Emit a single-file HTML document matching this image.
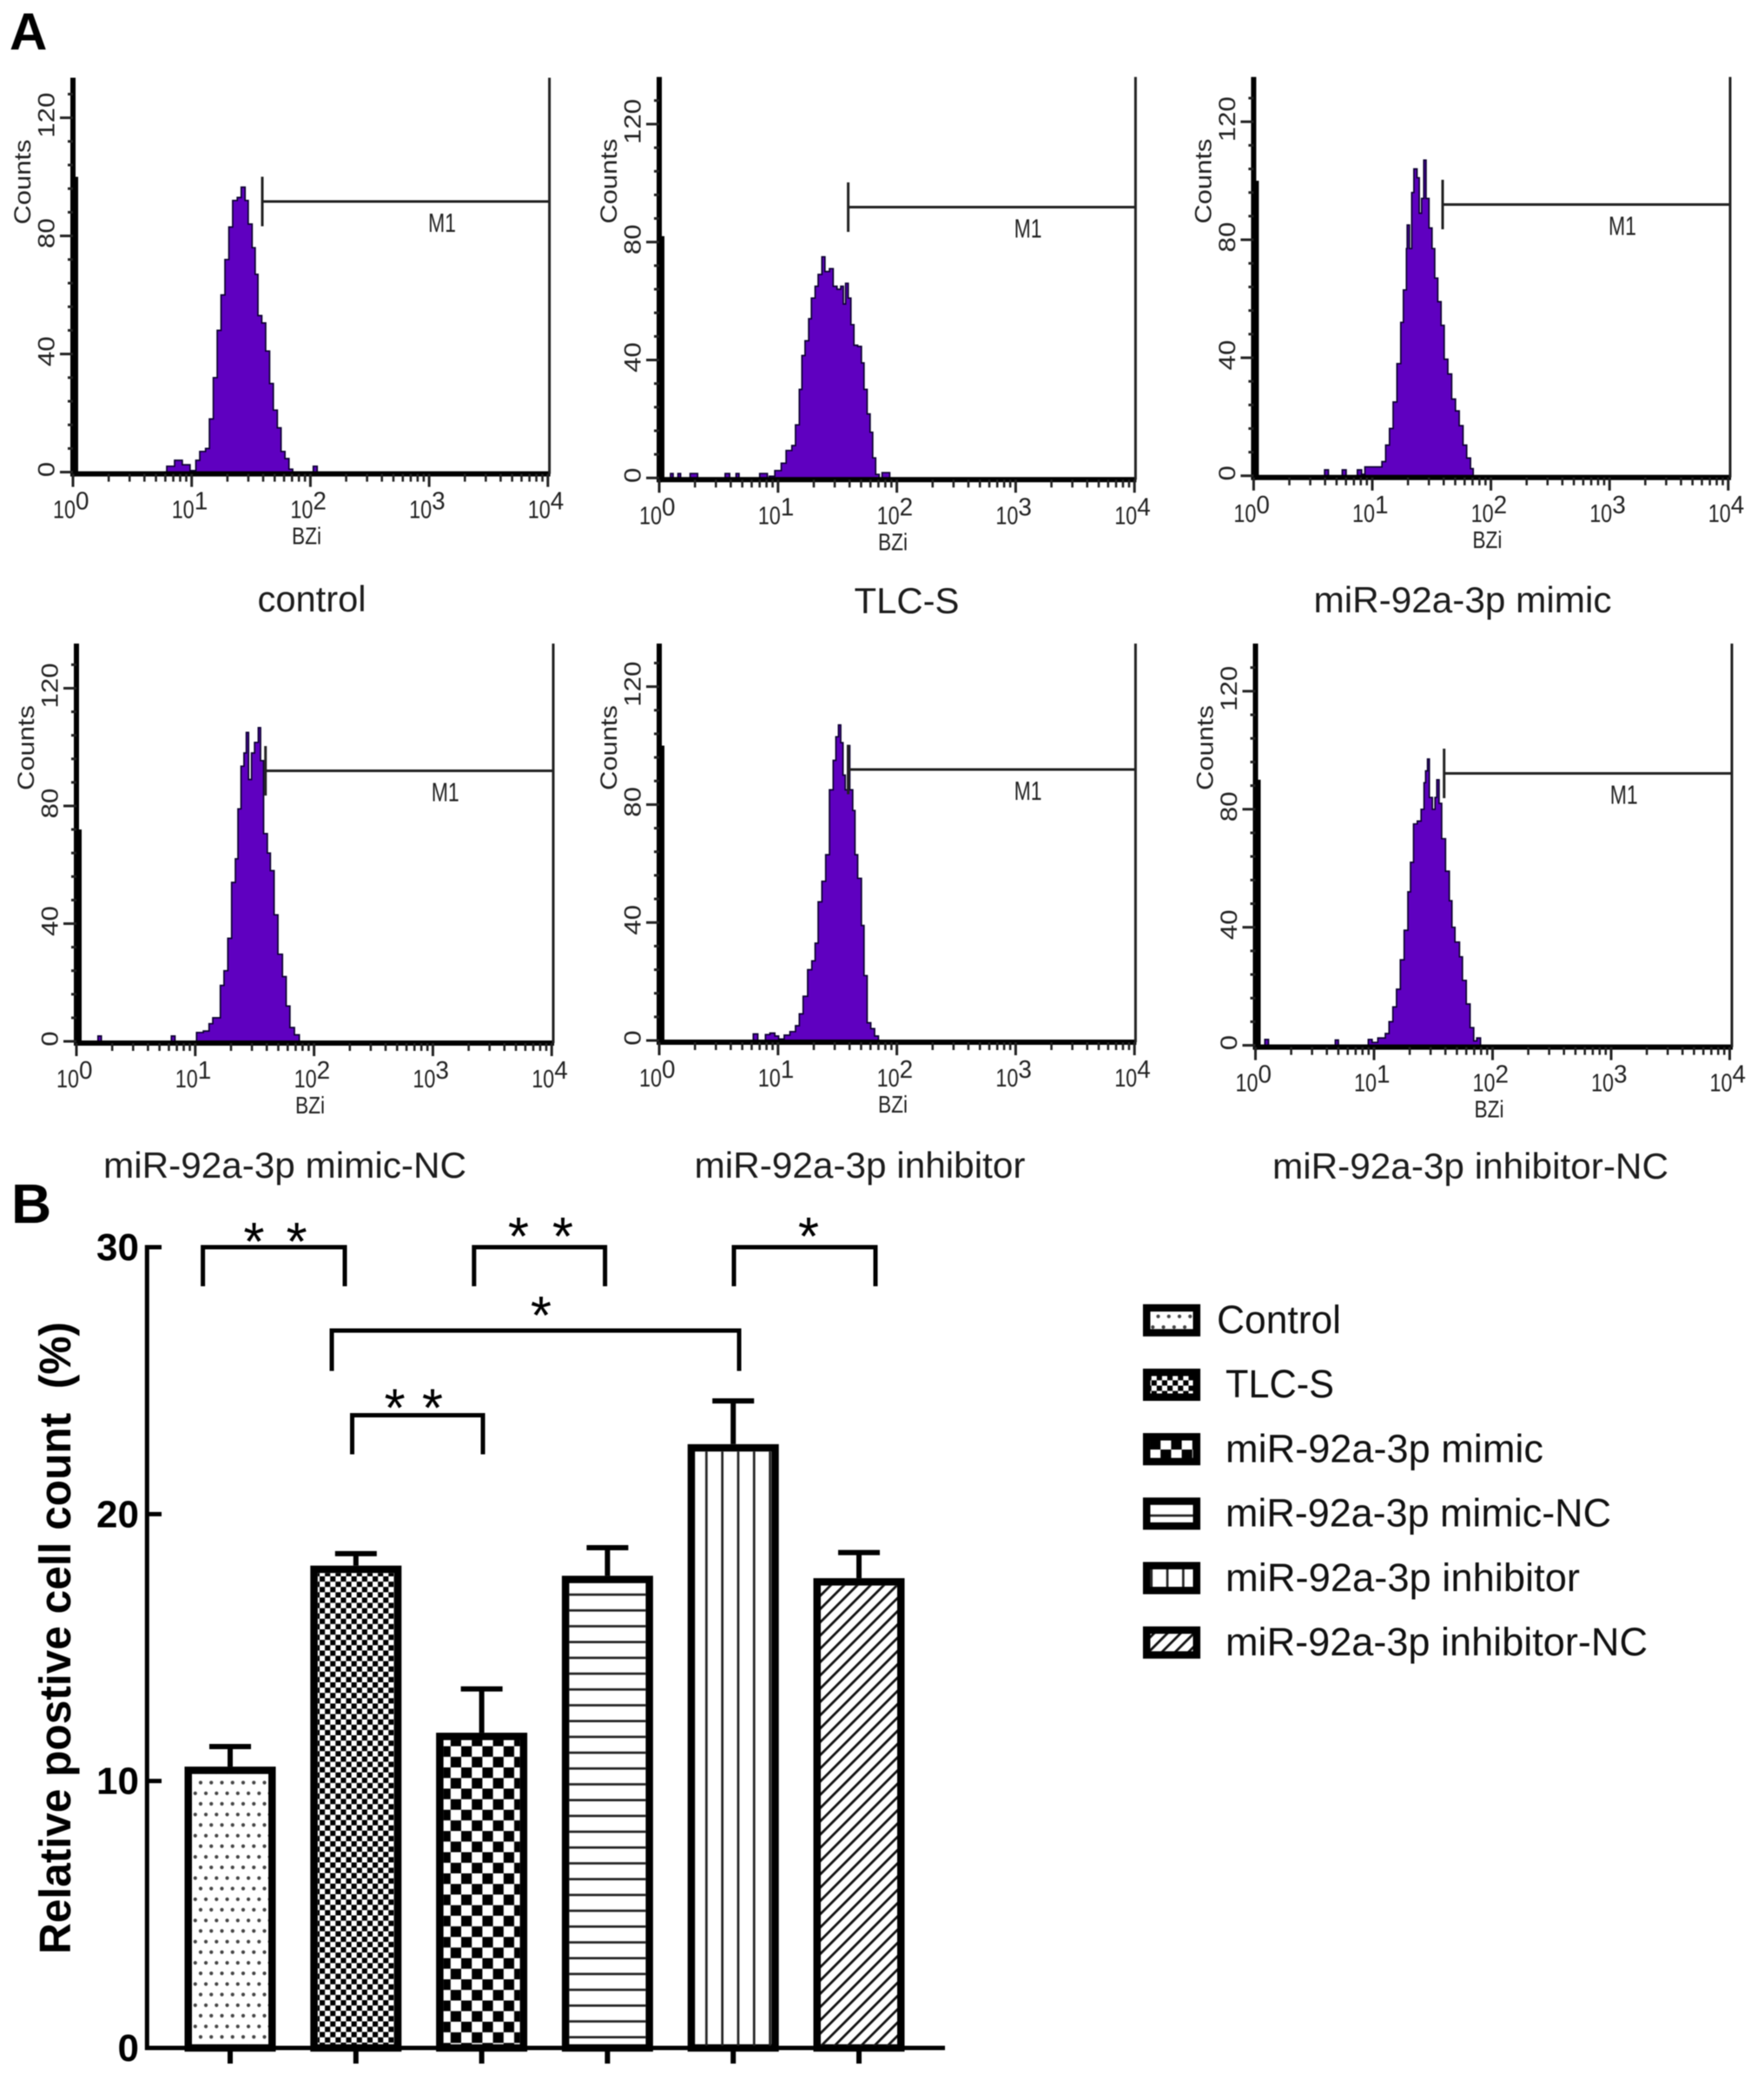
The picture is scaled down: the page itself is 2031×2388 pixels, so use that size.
<!DOCTYPE html>
<html lang="en">
<head>
<meta charset="utf-8">
<title>Flow cytometry histograms and relative positive cell count</title>
<style>
html,body{margin:0;padding:0;background:#fff;}
svg{display:block;font-family:"Liberation Sans",sans-serif;filter:blur(0.6px);}
.cap{font-size:41.5px;fill:#1c1c1c;text-anchor:middle;}
.leg{font-size:45px;fill:#111;}
.star{font-size:62px;fill:#000;text-anchor:middle;}
.br{fill:none;stroke:#000;stroke-width:5;}
.sw{stroke:#000;stroke-width:8.5;}
</style>
</head>
<body>
<svg id="fig" width="2031" height="2388" viewBox="0 0 2031 2388" xmlns="http://www.w3.org/2000/svg">
<defs>
<pattern id="p-dots" patternUnits="userSpaceOnUse" x="221.74" y="2241.6" width="12.25" height="24.4">
<circle cx="9.26" cy="6.1" r="2.1" fill="#444"/><circle cx="3.06" cy="18.4" r="2.1" fill="#444"/>
</pattern>
<pattern id="p-fine" patternUnits="userSpaceOnUse" x="368" y="1815" width="12.2" height="12.2">
<rect x="0" y="0" width="6.1" height="6.1" fill="#000"/><rect x="6.1" y="6.1" width="6.1" height="6.1" fill="#000"/>
</pattern>
<pattern id="p-check" patternUnits="userSpaceOnUse" x="506.6" y="2010.6" width="24.4" height="24.4">
<rect x="0" y="0" width="12.2" height="12.2" fill="#000"/><rect x="12.2" y="12.2" width="12.2" height="12.2" fill="#000"/>
</pattern>
<pattern id="p-hor" patternUnits="userSpaceOnUse" x="0" y="1827" width="18.2" height="18.2">
<rect x="0" y="7.7" width="18.2" height="2.7" fill="#222"/>
</pattern>
<pattern id="p-ver" patternUnits="userSpaceOnUse" x="804.3" y="0" width="18.3" height="18.3">
<rect x="7.7" y="0" width="2.7" height="18.3" fill="#222"/>
</pattern>
<pattern id="p-diag" patternUnits="userSpaceOnUse" width="10.8" height="10.8" patternTransform="rotate(-45)">
<rect x="0" y="0" width="10.8" height="2.8" fill="#111"/>
</pattern>
</defs>
<rect width="2031" height="2388" fill="#fff"/>

<text x="11" y="57" font-size="60" font-weight="700">A</text>
<text x="13" y="1408" font-size="64" font-weight="700">B</text>

<text class="cap" x="359" y="704" textLength="125" lengthAdjust="spacingAndGlyphs">control</text>
<text class="cap" x="1044" y="706" textLength="121" lengthAdjust="spacingAndGlyphs">TLC-S</text>
<text class="cap" x="1684" y="705" textLength="343" lengthAdjust="spacingAndGlyphs">miR-92a-3p mimic</text>
<text class="cap" x="328" y="1356" textLength="418" lengthAdjust="spacingAndGlyphs">miR-92a-3p mimic-NC</text>
<text class="cap" x="990" y="1356" textLength="381" lengthAdjust="spacingAndGlyphs">miR-92a-3p inhibitor</text>
<text class="cap" x="1693" y="1357" textLength="456" lengthAdjust="spacingAndGlyphs">miR-92a-3p inhibitor-NC</text>

<g id="hist-root"></g>
<g id="bar-root"></g>

<text x="81" y="1886" font-size="51" font-weight="700" text-anchor="middle" textLength="728" lengthAdjust="spacingAndGlyphs" transform="rotate(-90 81 1886)">Relative postive cell count&#160; (%)</text>

<g>
<path class="br" d="M233.6 1481V1436H397V1481"/>
<path class="br" d="M545.8 1481V1436H696.6V1481"/>
<path class="br" d="M845 1481V1436H1008V1481"/>
<path class="br" d="M382 1578.5V1532H851V1578.5"/>
<path class="br" d="M405.5 1674.5V1629.5H556V1674.5"/>
<text class="star" x="292.5" y="1451">*</text>
<text class="star" x="341.6" y="1451">*</text>
<text class="star" x="597" y="1445">*</text>
<text class="star" x="648" y="1445">*</text>
<text class="star" x="931" y="1445">*</text>
<text class="star" x="623" y="1536">*</text>
<text class="star" x="454.6" y="1642.5">*</text>
<text class="star" x="498" y="1642.5">*</text>
</g>

<g>
<rect class="sw" x="1320.2" y="1505.9" width="57.6" height="28.6" fill="url(#p-dots)"/>
<rect class="sw" x="1320.2" y="1580.1" width="57.6" height="28.6" fill="url(#p-fine)"/>
<rect class="sw" x="1320.2" y="1654.3" width="57.6" height="28.6" fill="url(#p-check)"/>
<rect class="sw" x="1320.2" y="1728.5" width="57.6" height="28.6" fill="url(#p-hor)"/>
<rect class="sw" x="1320.2" y="1802.7" width="57.6" height="28.6" fill="url(#p-ver)"/>
<rect class="sw" x="1320.2" y="1876.9" width="57.6" height="28.6" fill="url(#p-diag)"/>
<text class="leg" x="1401" y="1535" textLength="143" lengthAdjust="spacingAndGlyphs">Control</text>
<text class="leg" x="1411" y="1609.2" textLength="125" lengthAdjust="spacingAndGlyphs">TLC-S</text>
<text class="leg" x="1411" y="1683.4" textLength="366" lengthAdjust="spacingAndGlyphs">miR-92a-3p mimic</text>
<text class="leg" x="1411" y="1757.6" textLength="444" lengthAdjust="spacingAndGlyphs">miR-92a-3p mimic-NC</text>
<text class="leg" x="1411" y="1831.8" textLength="408" lengthAdjust="spacingAndGlyphs">miR-92a-3p inhibitor</text>
<text class="leg" x="1411" y="1906" textLength="486" lengthAdjust="spacingAndGlyphs">miR-92a-3p inhibitor-NC</text>
</g>
</svg>

<script>
/* ---------- flow histogram data: log10 fluorescence and event counts ---------- */
const controlLogs = [.774,.79,.856,.921,.986,1.035,1.068,1.117,1.149,1.182,1.215,1.247,1.28,1.313,1.345,1.384,1.417,1.45,1.476,1.509,1.535,1.558,1.59,1.623,1.656,1.688,1.721,1.753,1.786,1.819,1.851,2.0,2.024,2.057];
const controlCounts = [0,2,4,2.5,.5,4,7,8,18,32,48,60,72,83,92,93,96.5,92,84,76,67,53,50.5,41,30,21,15,7,4.6,1,0,0,2,0];
const tlcLogs = [.07,.095,.117,.158,.18,.26,.298,.323,.555,.593,.647,.672,.846,.878,.91,.926,.973,1.027,1.068,1.116,1.147,1.179,1.201,1.227,1.258,1.281,1.312,1.338,1.369,1.395,1.433,1.464,1.496,1.528,1.55,1.569,1.591,1.613,1.639,1.67,1.702,1.724,1.75,1.775,1.797,1.822,1.851,1.876,1.908,1.94];
const tlcCounts = [0,1.5,0,1.5,0,1.5,1.5,0,1.5,0,1.5,0,1.5,1.5,0,.6,2.5,5,9.3,11,18,30,41.5,46.5,54,61,65,69,75,70,71,65,64,65,59,66,61,52,45,44.6,39,30,21.7,15.5,6.8,1.2,0,1.8,1.8,0];
const mimicLogs = [.56,.598,.63,.72,.747,.78,.85,.874,.91,.938,1.0,1.049,1.081,1.113,1.145,1.176,1.208,1.24,1.262,1.288,1.294,1.313,1.332,1.351,1.377,1.396,1.415,1.434,1.453,1.478,1.504,1.526,1.552,1.58,1.606,1.637,1.669,1.701,1.733,1.765,1.796,1.828,1.851];
const mimicCounts = [0,2,0,0,2,0,0,2,.5,3,3,3,4.8,10.4,16,25,38,52,63,77,85,77,96,104,101,89,94,107,94,84,77,67,59,51,39.5,34.5,26,22,17,10.4,6,2.4,0];
const mimicNcLogs = [.15,.181,.21,.77,.799,.83,.989,1.011,1.068,1.116,1.148,1.185,1.211,1.242,1.274,1.306,1.338,1.36,1.385,1.41,1.43,1.449,1.474,1.499,1.531,1.55,1.575,1.607,1.632,1.664,1.696,1.734,1.765,1.797,1.835,1.876];
const mimicNcCounts = [0,1.8,0,0,1.8,0,0,3,3.5,6,8,8,19,24,35,54,62,79,93.5,98,105,89,98,101.6,106.6,95.4,70.6,64,58,43,29.6,22,12,4.7,2.2,0];
const inhibitorLogs = [.76,.792,.83,.894,.932,.973,1.005,1.052,1.1,1.147,1.179,1.211,1.249,1.284,1.312,1.338,1.369,1.401,1.433,1.464,1.487,1.509,1.528,1.547,1.566,1.585,1.604,1.629,1.648,1.67,1.702,1.724,1.75,1.781,1.813,1.845];
const inhibitorCounts = [0,2.2,0,2,2.5,1.5,.5,1.8,3,5,9,15,24,27,33,47,54,63,85,95,103,107,101,90,85,100,85,78,63,55,39,22,6,4,1.5,0];
const inhibitorNcLogs = [.05,.079,.11,.64,.673,.7,.92,.952,.984,1.032,1.095,1.127,1.159,1.19,1.222,1.254,1.286,1.308,1.333,1.365,1.397,1.422,1.435,1.451,1.467,1.492,1.514,1.53,1.549,1.571,1.603,1.635,1.657,1.683,1.721,1.746,1.778,1.81,1.841,1.867,1.898];
const inhibitorNcCounts = [0,2,0,0,1.8,0,0,2,1,2.5,4,8,13,19,29,39,52,62,75,76,80,89,93,97,84,80,84,90,82,70,59,49,40,35,30,22,14,6,1.5,2.5,0];
/* height of the first (channel 0) bin at the left edge of each histogram */
const firstBinCounts = [100,82,100,72,100,90];

const histogramNames = ['control','tlc-s','mimic','mimic-nc','inhibitor','inhibitor-nc'];
const histogramLogs = [controlLogs,tlcLogs,mimicLogs,mimicNcLogs,inhibitorLogs,inhibitorNcLogs];
const histogramCounts = [controlCounts,tlcCounts,mimicCounts,mimicNcCounts,inhibitorCounts,inhibitorNcCounts];

const countTickLabels = ['0','40','80','120'];
const countTickValues = [0,40,80,120];
const countMinorValues = [8,16,24,32,48,56,64,72,88,96,104,112,128];
const decadeExponents = [0,1,2,3,4];
const minorMultipliers = [2,3,4,5,6,7,8,9];
const gateLabel = 'M1';

/* ---------- bar chart data ---------- */
const barCategories = ['Control','TLC-S','miR-92a-3p mimic','miR-92a-3p mimic-NC','miR-92a-3p inhibitor','miR-92a-3p inhibitor-NC'];
const barMeans = [10.54,18.07,11.81,17.69,22.62,17.6];
const barErrors = [.75,.45,1.64,1.05,1.62,.96];
const barValueTicks = [0,10,20,30];

/* ---------- layout (not data) ---------- */
const panelLayouts = [
  {axisX:84,   top:89.5,zero:543.6, perCount:3.4,  right:632.6, decade:136.7,gateX:302,   gateY:232},
  {axisX:759,  top:88.6,zero:550.3, perCount:3.395,right:1307.4,decade:136.8,gateX:976.6, gateY:238.5},
  {axisX:1443.4,top:88.6,zero:547.8,perCount:3.397,right:1992,  decade:136.6,gateX:1661,  gateY:235.5},
  {axisX:88,   top:741, zero:1199,  perCount:3.388,right:637,   decade:136.8,gateX:305.7, gateY:887.5},
  {axisX:759,  top:741, zero:1198,  perCount:3.395,right:1307.4,decade:136.8,gateX:976.6, gateY:886},
  {axisX:1445.5,top:741,zero:1203.6,perCount:3.398,right:1994,  decade:136.5,gateX:1662.7,gateY:890.5}
];
const barFills = ['url(#p-dots)','url(#p-fine)','url(#p-check)','url(#p-hor)','url(#p-ver)','url(#p-diag)'];
const barKeys = ['control','tlc-s','mimic','mimic-nc','inhibitor','inhibitor-nc'];

const SVGNS = 'http://www.w3.org/2000/svg';
function make(tag, attrs, parent, text){
  const node = document.createElementNS(SVGNS, tag);
  for (const k in attrs) node.setAttribute(k, attrs[k]);
  if (text !== undefined) node.textContent = text;
  parent.appendChild(node);
  return node;
}

/* ---------- draw histograms ---------- */
const histRoot = document.getElementById('hist-root');
panelLayouts.forEach(function(p, idx){
  const key = histogramNames[idx];
  const xOf = function(logValue){ return p.axisX + logValue * p.decade; };
  const yOf = function(count){ return p.zero - count * p.perCount; };
  const base = p.zero + 2;

  const g = make('g', {}, histRoot);
  
  

  /* histogram outline as a step path */
  const logs = histogramLogs[idx], counts = histogramCounts[idx];
  let d = 'M' + xOf(logs[0]).toFixed(1) + ' ' + base;
  for (let i = 0; i < logs.length; i++){
    d += 'H' + xOf(logs[i]).toFixed(1) + 'V' + yOf(counts[i]).toFixed(1);
  }
  d += 'V' + base + 'Z';
  const area = make('path', {d:d, fill:'#5f00c0', stroke:'#0c0030', 'stroke-width':1.7, 'stroke-linejoin':'miter'}, g);
  
  

  /* first-channel spike beside the y axis */
  const firstBin = make('rect', {x:p.axisX, y:yOf(firstBinCounts[idx]), width:6, height:base - yOf(firstBinCounts[idx]), fill:'#000'}, g);
  
  

  /* axes */
  const yAxis = make('line', {x1:p.axisX, x2:p.axisX, y1:p.top, y2:base + 3, stroke:'#000', 'stroke-width':6}, g);
  
  
  const xAxis = make('line', {x1:p.axisX - 2, x2:p.right + 1, y1:base, y2:base, stroke:'#000', 'stroke-width':6}, g);
  
  
  const rightEdge = make('line', {x1:p.right, x2:p.right, y1:p.top, y2:base, stroke:'#222', 'stroke-width':3}, g);
  
  

  /* y ticks */
  countMinorValues.forEach(function(v){
    const t = make('line', {x1:p.axisX - 6, x2:p.axisX, y1:yOf(v), y2:yOf(v), stroke:'#222', 'stroke-width':3}, g);
    
    
  });
  countTickValues.forEach(function(v, i){
    const t = make('line', {x1:p.axisX - 15, x2:p.axisX, y1:yOf(v), y2:yOf(v), stroke:'#222', 'stroke-width':3}, g);
    
    
    const lx = p.axisX - 21.5, ly = yOf(v) - 3;
    const label = make('text', {x:lx, y:ly, 'font-size':27, fill:'#222', 'text-anchor':'middle',
      textLength:17.4 * countTickLabels[i].length, lengthAdjust:'spacingAndGlyphs',
      transform:'rotate(-90 ' + lx + ' ' + ly + ')'}, g, countTickLabels[i]);
    
    
  });

  /* y title */
  const tx = p.axisX - 49, ty = p.top + 120;
  const yTitle = make('text', {x:tx, y:ty, 'font-size':27, fill:'#222', 'text-anchor':'middle', textLength:98,
    lengthAdjust:'spacingAndGlyphs', transform:'rotate(-90 ' + tx + ' ' + ty + ')'}, g, 'Counts');
  
  

  /* x ticks */
  decadeExponents.forEach(function(e){
    const x = xOf(e);
    const t = make('line', {x1:x, x2:x, y1:base, y2:base + 15, stroke:'#222', 'stroke-width':3}, g);
    
    
    if (e < 4) minorMultipliers.forEach(function(m){
      const mx = xOf(e + Math.log10(m));
      const mt = make('line', {x1:mx, x2:mx, y1:base, y2:base + 9, stroke:'#222', 'stroke-width':2.6}, g);
      
      
    });
    const ten = make('text', {x:x + 3, y:base + 51, 'font-size':29, fill:'#222', 'text-anchor':'end', textLength:26, lengthAdjust:'spacingAndGlyphs'}, g, '10');
    
    
    const sup = make('text', {x:x + 3, y:base + 41, 'font-size':29, fill:'#222', textLength:15.5, lengthAdjust:'spacingAndGlyphs'}, g, String(e));
    
    
  });

  /* x title */
  const xTitle = make('text', {x:p.axisX + 269, y:base + 81, 'font-size':28, fill:'#222', 'text-anchor':'middle', textLength:34, lengthAdjust:'spacingAndGlyphs'}, g, 'BZi');
  
  

  /* marker gate */
  const gate = make('path', {d:'M' + p.gateX + ' ' + (p.gateY - 28.5) + 'V' + (p.gateY + 28.5) + 'M' + p.gateX + ' ' + p.gateY + 'H' + p.right,
    fill:'none', stroke:'#222', 'stroke-width':3}, g);
  
  
  const gateText = make('text', {x:p.gateX + 207, y:p.gateY + 35, 'font-size':31, fill:'#222', 'text-anchor':'middle', textLength:32, lengthAdjust:'spacingAndGlyphs'}, g, gateLabel);
  
  
});

/* ---------- draw bar chart ---------- */
const barRoot = document.getElementById('bar-root');
const barY = function(value){ return 2358 - value * (922 / 30); };
const barX = function(index){ return 265 + index * 144.8; };
const barWidth = 105, barBorder = 8.5;

barCategories.forEach(function(name, i){
  const cx = barX(i), top = barY(barMeans[i]), capY = barY(barMeans[i] + barErrors[i]);
  const g = make('g', {}, barRoot);
  
  
  const stem = make('line', {x1:cx, x2:cx, y1:capY, y2:top, stroke:'#000', 'stroke-width':6}, g);
  
  
  const cap = make('line', {x1:cx - 24, x2:cx + 24, y1:capY, y2:capY, stroke:'#000', 'stroke-width':6}, g);
  
  
  const bar = make('rect', {x:cx - barWidth / 2 + barBorder / 2, y:top + barBorder / 2,
    width:barWidth - barBorder, height:barY(0) - top - barBorder / 2, fill:'#fff', stroke:'#000', 'stroke-width':barBorder}, g);
  
  
  const hatch = make('rect', {x:cx - barWidth / 2 + barBorder, y:top + barBorder,
    width:barWidth - 2 * barBorder, height:barY(0) - top - barBorder, fill:barFills[i]}, g);
  
  
  const tick = make('line', {x1:cx, x2:cx, y1:barY(0), y2:2376, stroke:'#000', 'stroke-width':6}, barRoot);
  
  
});

const barYAxis = make('line', {x1:169.3, x2:169.3, y1:barY(30) - 2.5, y2:barY(0) + 2.5, stroke:'#000', 'stroke-width':5}, barRoot);


const barXAxis = make('line', {x1:167, x2:1088, y1:barY(0), y2:barY(0), stroke:'#000', 'stroke-width':5}, barRoot);



barValueTicks.forEach(function(v){
  const t = make('line', {x1:167, x2:186, y1:barY(v), y2:barY(v), stroke:'#000', 'stroke-width':5}, barRoot);
  
  
  const label = make('text', {x:160, y:barY(v) + 15, 'font-size':44, 'font-weight':700, 'text-anchor':'end', fill:'#000'}, barRoot, String(v));
  
  
});
</script>
</body>
</html>
